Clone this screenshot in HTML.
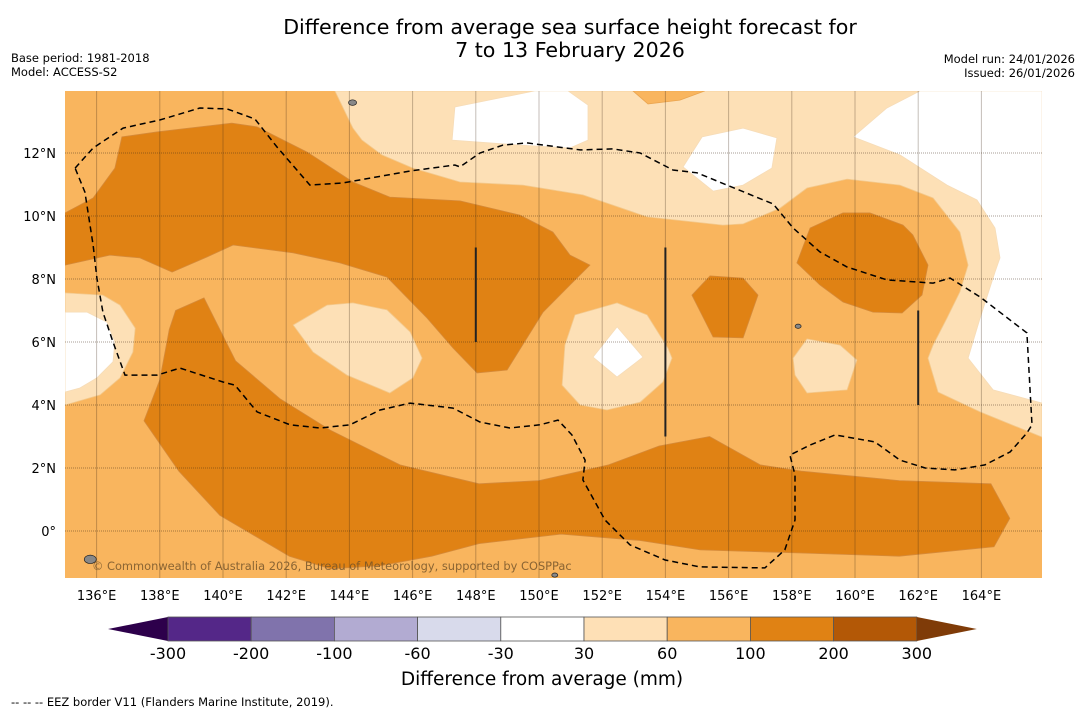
<!DOCTYPE html>
<html><head><meta charset="utf-8"><style>
body{margin:0;background:#fff;width:1085px;height:713px;overflow:hidden;font-family:"Liberation Sans","DejaVu Sans",sans-serif}
svg text{font-family:"DejaVu Sans","Liberation Sans",sans-serif}
</style></head><body>
<svg id="chart" width="1085" height="713" viewBox="0 0 1085 713" xmlns="http://www.w3.org/2000/svg">
<text x="570" y="34" font-size="20.6" text-anchor="middle">Difference from average sea surface height forecast for</text>
<text x="570" y="57" font-size="20.6" text-anchor="middle">7 to 13 February 2026</text>
<text x="11" y="62" font-size="11.5">Base period: 1981-2018</text>
<text x="11" y="76" font-size="11.5">Model: ACCESS-S2</text>
<text x="1075" y="63" font-size="11.5" text-anchor="end">Model run: 24/01/2026</text>
<text x="1075" y="77" font-size="11.5" text-anchor="end">Issued: 26/01/2026</text>
<defs><clipPath id="mapclip"><rect x="65" y="91" width="977" height="487"/></clipPath></defs>
<g id="map" clip-path="url(#mapclip)">
<rect x="65" y="91" width="977" height="487" fill="#f9b55e"/>
</g>
<g id="axes"></g>
<g id="cbar"></g>
<text x="542" y="685" font-size="18.5" text-anchor="middle">Difference from average (mm)</text>
<text x="11" y="706" font-size="11.5">--  --  -- EEZ border V11 (Flanders Marine Institute, 2019).</text>
</svg>
<script>
const NS="http://www.w3.org/2000/svg";
// axis ticks
const lonTicks=[136,138,140,142,144,146,148,150,152,154,156,158,160,162,164];
const latTicks=[0,2,4,6,8,10,12];
const cbarBounds=[-300,-200,-100,-60,-30,30,60,100,200,300];
const cbarColors=["#542788","#8073ac","#b2abd2","#d8daeb","#ffffff","#fee0b6","#f9b55e","#e08214","#b35806"];
const cbarLow="#2d004b", cbarHigh="#7f3b08";
// contour polygons [lon,lat]
const lightTop=[[143.54,13.97],[144.11,12.79],[144.40,12.41],[145.03,11.94],[146.01,11.52],[147.50,11.08],[149.49,10.98],[151.39,10.67],[153.42,9.97],[155.82,9.71],[156.46,9.75],[157.63,10.25],[158.48,10.89],[159.75,11.17],[161.42,10.98],[162.47,10.57],[163.32,9.49],[163.58,8.44],[163.32,7.59],[162.91,6.76],[162.47,5.90],[162.31,5.49],[162.63,4.41],[163.96,3.78],[165.92,2.98],[165.92,13.97]];
const lightLeft=[[135.00,7.56],[136.20,7.49],[136.74,7.17],[137.22,6.44],[137.15,5.68],[136.74,4.86],[136.11,4.32],[135.00,4.00]];
const lightCenterLeft=[[142.22,6.54],[143.29,7.17],[144.11,7.24],[145.19,7.02],[145.92,6.32],[146.30,5.49],[146.01,4.86],[145.28,4.38],[143.92,4.95],[142.85,5.68]];
const lightCenter=[[150.82,5.90],[151.14,6.86],[152.47,7.24],[153.42,6.86],[154.08,5.81],[154.21,5.49],[153.92,4.73],[153.20,4.09],[152.15,3.84],[151.30,4.00],[150.73,4.63]];
const lightSE=[[158.04,5.49],[158.48,6.10],[159.53,5.90],[160.06,5.43],[159.75,4.48],[158.48,4.38],[158.10,4.95]];
const whiteEast=[[159.94,12.51],[161.01,13.43],[162.06,13.97],[165.92,13.97],[165.92,4.06],[164.37,4.48],[163.58,5.49],[163.96,6.76],[164.43,8.22],[164.59,8.67],[164.43,9.62],[163.86,10.51],[162.91,10.98],[161.42,11.94]];
const whiteNE=[[154.56,11.56],[155.16,12.51],[156.46,12.79],[157.53,12.48],[157.37,11.52],[156.46,10.98],[155.51,10.79]];
const whiteTop=[[147.34,13.46],[148.92,13.78],[149.87,13.97],[150.92,13.97],[151.55,13.52],[151.55,12.41],[150.98,12.16],[149.40,12.25],[147.25,12.41]];
const whiteLeft=[[135.00,6.95],[135.70,6.95],[136.33,6.63],[136.58,6.00],[136.52,5.37],[136.01,4.86],[135.47,4.54],[135.00,4.41]];
const whiteCenter=[[151.71,5.52],[152.47,6.48],[153.29,5.52],[152.47,4.89]];
const midTopPatch=[[152.97,13.97],[155.25,13.97],[154.46,13.68],[153.45,13.56]];
const darkNorth=[[135.00,10.10],[135.89,10.57],[136.58,11.52],[136.80,12.51],[137.91,12.67],[140.28,12.95],[141.08,12.83],[142.66,12.03],[144.11,11.08],[145.28,10.60],[147.50,10.48],[149.40,10.03],[150.44,9.49],[150.98,8.76],[151.61,8.44],[150.98,7.81],[150.13,6.95],[148.99,5.11],[148.04,5.02],[147.28,5.81],[146.46,6.76],[145.19,8.06],[143.70,8.51],[142.22,8.83],[140.32,9.08],[139.49,8.70],[138.39,8.22],[137.37,8.67],[136.42,8.76],[135.00,8.44]];
const darkSouth=[[138.5,7.0],[139.4,7.4],[140.4,5.4],[141.8,4.2],[143.4,3.2],[145.6,2.1],[148.1,1.5],[150.0,1.6],[152.2,2.1],[153.8,2.7],[155.4,3.0],[157.0,2.1],[158.3,1.9],[161.4,1.6],[164.3,1.5],[164.9,0.4],[164.4,-0.5],[161.4,-0.8],[158.3,-0.7],[155.1,-0.6],[153.2,-0.3],[150.7,-0.1],[148.1,-0.4],[146.6,-0.8],[145.0,-1.1],[143.4,-1.2],[142.1,-0.8],[139.9,0.5],[138.6,1.9],[137.5,3.5],[138.0,4.8],[138.3,6.4]];
const darkNE=[[158.16,8.51],[158.58,9.62],[159.62,10.10],[160.47,10.10],[161.52,9.71],[161.83,9.40],[162.31,8.44],[162.12,7.49],[161.49,6.92],[160.57,6.95],[159.62,7.27],[158.89,7.81]];
const darkSmall=[[154.84,7.49],[155.41,8.10],[156.46,8.03],[156.93,7.49],[156.46,6.13],[155.51,6.16]];
const eez=[[135.32,11.52],[135.89,12.16],[136.84,12.79],[138.01,13.05],[139.27,13.43],[140.13,13.40],[141.01,13.08],[141.71,12.19],[142.75,10.98],[143.80,11.05],[145.92,11.43],[147.34,11.62],[147.50,11.56],[148.13,12.00],[148.86,12.25],[149.62,12.32],[151.30,12.10],[152.34,12.13],[153.20,12.00],[154.24,11.46],[155.00,11.37],[155.95,10.98],[157.41,10.38],[158.04,9.62],[158.89,8.86],[159.75,8.38],[161.01,7.97],[162.47,7.87],[163.01,8.03],[163.96,7.43],[165.44,6.29],[165.60,3.37],[165.44,3.11],[164.91,2.51],[164.11,2.10],[163.16,1.94],[162.22,2.00],[161.42,2.25],[160.63,2.83],[159.37,3.05],[158.58,2.73],[157.94,2.41],[158.10,1.78],[158.10,0.35],[157.78,-0.60],[157.15,-1.17],[155.09,-1.14],[153.99,-0.92],[152.88,-0.44],[152.09,0.35],[151.39,1.62],[151.46,2.25],[151.04,3.05],[150.60,3.52],[150.03,3.37],[149.08,3.27],[148.13,3.46],[147.28,3.90],[145.92,4.06],[144.97,3.84],[144.02,3.37],[143.07,3.27],[142.12,3.37],[141.08,3.78],[140.38,4.63],[140.00,4.73],[138.64,5.17],[137.91,4.95],[136.90,4.95],[136.52,6.00],[136.20,6.95],[136.01,8.03],[135.89,9.08],[135.63,10.76],[135.32,11.52]];
const boundaryLines=[[148,9.0,6.0],[154,9.0,3.0],[162,7.0,4.0]];
const islands=[[144.1,13.6,4],[135.8,-0.9,6],[158.2,6.5,3],[150.5,-1.4,3]];

function X(lon){return 65+(lon-135)*31.6;}
function Y(lat){return 153-(lat-12)*31.5;}
function pts(a){return a.map(p=>X(p[0]).toFixed(1)+","+Y(p[1]).toFixed(1)).join(" ");}
const map=document.getElementById("map");
function poly(a,fill,stroke,name){
  const e=document.createElementNS(NS,"polygon");
  e.setAttribute("points",pts(a));e.setAttribute("fill",fill);e.setAttribute("stroke",stroke);e.setAttribute("stroke-width","0.8");
  
  
  map.appendChild(e);
}
poly(lightTop,"#fde0b6","#f3c98d","contour-30-60-north");
poly(lightLeft,"#fde0b6","#f3c98d","contour-30-60-west");
poly(lightCenterLeft,"#fde0b6","#f3c98d","contour-30-60-centre-west");
poly(lightCenter,"#fde0b6","#f3c98d","contour-30-60-centre");
poly(lightSE,"#fde0b6","#f3c98d","contour-30-60-east");
poly(whiteEast,"#ffffff","#f6dcb8","contour-neutral-east");
poly(whiteNE,"#ffffff","#f6dcb8","contour-neutral-northeast");
poly(whiteTop,"#ffffff","#f6dcb8","contour-neutral-north");
poly(whiteLeft,"#ffffff","#f6dcb8","contour-neutral-west");
poly(whiteCenter,"#ffffff","#f6dcb8","contour-neutral-centre");
poly(midTopPatch,"#f9b55e","#eaa550","contour-60-100-north-patch");
poly(darkNorth,"#e08214","#d58a3a","contour-100-200-north");
poly(darkSouth,"#e08214","#d58a3a","contour-100-200-south");
poly(darkNE,"#e08214","#d58a3a","contour-100-200-northeast");
poly(darkSmall,"#e08214","#d58a3a","contour-100-200-small");
// gridlines
lonTicks.forEach(l=>{const e=document.createElementNS(NS,"line");
  e.setAttribute("x1",X(l));e.setAttribute("x2",X(l));e.setAttribute("y1",91);e.setAttribute("y2",578);
  e.setAttribute("stroke","rgba(60,40,20,0.3)");e.setAttribute("stroke-width","1");
  
  
  map.appendChild(e);});
latTicks.forEach(l=>{const e=document.createElementNS(NS,"line");
  e.setAttribute("x1",65);e.setAttribute("x2",1042);e.setAttribute("y1",Y(l));e.setAttribute("y2",Y(l));
  e.setAttribute("stroke","rgba(60,40,20,0.45)");e.setAttribute("stroke-width","1");e.setAttribute("stroke-dasharray","1,1");
  
  
  map.appendChild(e);});
// islands
islands.forEach(p=>{const e=document.createElementNS(NS,"ellipse");
  e.setAttribute("cx",X(p[0]));e.setAttribute("cy",Y(p[1]));e.setAttribute("rx",p[2]);e.setAttribute("ry",p[2]*0.7);
  e.setAttribute("fill","#888");e.setAttribute("stroke","#222");e.setAttribute("stroke-width","0.7");
  
  
  map.appendChild(e);});
// boundary lines
boundaryLines.forEach(b=>{const e=document.createElementNS(NS,"line");
  e.setAttribute("x1",X(b[0]));e.setAttribute("x2",X(b[0]));e.setAttribute("y1",Y(b[1]));e.setAttribute("y2",Y(b[2]));
  e.setAttribute("stroke","#222");e.setAttribute("stroke-width","2");
  
  
  map.appendChild(e);});
// EEZ
{const e=document.createElementNS(NS,"polyline");
  e.setAttribute("points",pts(eez));e.setAttribute("fill","none");e.setAttribute("stroke","#000");e.setAttribute("stroke-width","1.5");e.setAttribute("stroke-dasharray","6,4");
  
  
  map.appendChild(e);}
{const t=document.createElementNS(NS,"text");
  t.setAttribute("x",92);t.setAttribute("y",570);t.setAttribute("font-size","11.4");t.setAttribute("fill","rgba(110,80,40,0.8)");
  t.textContent="© Commonwealth of Australia 2026, Bureau of Meteorology, supported by COSPPac";
  
  
  map.appendChild(t);}
// axes labels
const axes=document.getElementById("axes");
lonTicks.forEach(l=>{const t=document.createElementNS(NS,"text");
  t.setAttribute("x",X(l));t.setAttribute("y",600);t.setAttribute("font-size","13");t.setAttribute("text-anchor","middle");
  t.textContent=l+"°E";
  
  
  axes.appendChild(t);});
latTicks.forEach(l=>{const t=document.createElementNS(NS,"text");
  t.setAttribute("x",56);t.setAttribute("y",Y(l)+5);t.setAttribute("font-size","13");t.setAttribute("text-anchor","end");
  t.textContent=l===0?"0°":l+"°N";
  
  
  axes.appendChild(t);});
// colorbar
const cb=document.getElementById("cbar");
const cbX0=168, segW=83.2, cbY=617, cbH=24;
{const e=document.createElementNS(NS,"polygon");
  e.setAttribute("points",`108,${cbY+cbH/2} ${cbX0},${cbY} ${cbX0},${cbY+cbH}`);e.setAttribute("fill",cbarLow);
  
  
  cb.appendChild(e);}
cbarColors.forEach((c,i)=>{const e=document.createElementNS(NS,"rect");
  e.setAttribute("x",cbX0+i*segW);e.setAttribute("y",cbY);e.setAttribute("width",segW);e.setAttribute("height",cbH);
  e.setAttribute("fill",c);e.setAttribute("stroke","#555");e.setAttribute("stroke-width","0.8");
  
  
  cb.appendChild(e);});
{const xe=cbX0+cbarColors.length*segW;const e=document.createElementNS(NS,"polygon");
  e.setAttribute("points",`${xe},${cbY} ${xe+60},${cbY+cbH/2} ${xe},${cbY+cbH}`);e.setAttribute("fill",cbarHigh);
  
  
  cb.appendChild(e);}
cbarBounds.forEach((v,i)=>{const t=document.createElementNS(NS,"text");
  t.setAttribute("x",cbX0+i*segW);t.setAttribute("y",659);t.setAttribute("font-size","16");t.setAttribute("text-anchor","middle");
  t.textContent=v;
  
  
  cb.appendChild(t);});
</script>
</body></html>
